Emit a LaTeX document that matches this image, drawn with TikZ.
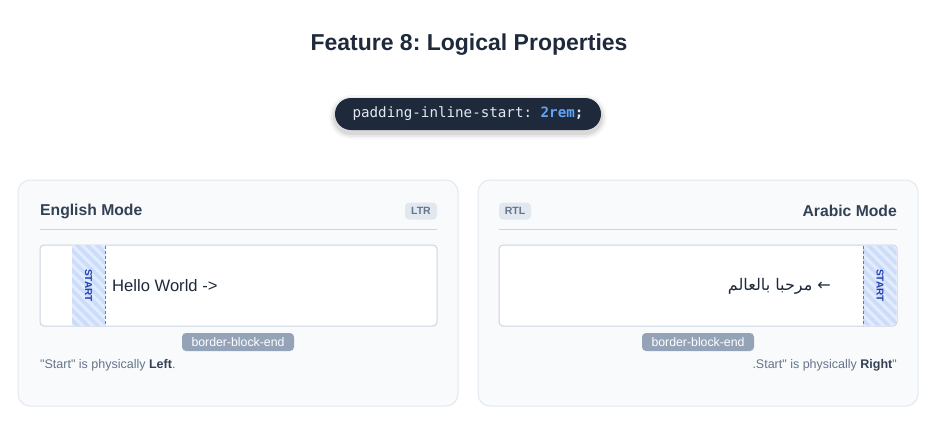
\documentclass[tikz,border=0pt]{standalone}
\usepackage{fontspec}
\setmainfont{Liberation Sans}
\newfontfamily\codefont{DejaVu Sans Mono}
\newfontfamily\arabicfont[Script=Arabic]{DejaVu Sans}
\TeXXeTstate=1
\frenchspacing

\definecolor{ink}{HTML}{1E293B}
\definecolor{headink}{HTML}{334155}
\definecolor{noteink}{HTML}{64748B}
\definecolor{cardbg}{HTML}{F8FAFC}
\definecolor{cardline}{HTML}{E2E8F0}
\definecolor{boxline}{HTML}{CBD5E1}
\definecolor{tagbg}{HTML}{E2E8F0}
\definecolor{endbg}{HTML}{94A3B8}
\definecolor{codebg}{HTML}{1E293B}
\definecolor{codetxt}{HTML}{E2E8F0}
\definecolor{codeblue}{HTML}{60A5FA}
\definecolor{stripebg}{HTML}{E3ECFD}
\definecolor{stripefg}{HTML}{CCDDFB}
\definecolor{startline}{HTML}{3B82F6}
\definecolor{startink}{HTML}{1E40AF}

\tikzset{
    card/.style={draw=cardline, fill=cardbg, line width=1pt, rounded corners=12pt},
    demobox/.style={draw=boxline, fill=white, line width=1pt, rounded corners=4pt},
    rulebar/.style={draw=boxline, line width=1pt},
    heading/.style={font=\fontsize{15.7}{18}\selectfont\bfseries, text=headink, inner sep=0pt},
    modetag/.style={fill=tagbg, rounded corners=4pt, minimum width=32pt, minimum height=17pt,
        inner sep=0pt, text=noteink, font=\fontsize{10.5}{12}\selectfont\bfseries},
    endtag/.style={fill=endbg, rounded corners=4pt, minimum width=112pt, minimum height=18pt,
        inner sep=0pt, text=white, font=\fontsize{12.3}{14}\selectfont},
    note/.style={font=\fontsize{12.5}{15}\selectfont, text=noteink, inner sep=0pt},
    startlbl/.style={font=\fontsize{10}{12}\selectfont\bfseries, text=startink, inner sep=0pt},
    stripe/.style={draw=stripefg, line width=3.6pt},
    startedge/.style={draw=startline, line width=1pt, dash pattern=on 3pt off 2pt},
}

\begin{document}
\begin{tikzpicture}[x=1pt, y=-1pt]

    \useasboundingbox (0,0) rectangle (941,436);

    % title and code pill
    \node[font=\fontsize{23}{27}\selectfont\bfseries, text=ink] (title) at (469,45) {Feature 8: Logical Properties};

    \foreach \s/\o in {6/0.03, 4/0.05, 2/0.07}
        \fill[black, opacity=\o, rounded corners=16pt+\s pt] (335-\s,101-\s) rectangle (601+\s,133+\s);
    \node[fill=codebg, rounded corners=16pt, minimum width=266pt, minimum height=32pt, inner sep=0pt,
        font=\codefont\fontsize{14.2}{16}\selectfont] (code) at (468,114)
        {\textcolor{codetxt}{padding-inline-start:~}\textcolor{codeblue}{\bfseries 2rem}\textcolor{codetxt}{\bfseries;}};

    % english card
    \draw[card] (18,180) rectangle (458,406);
    \node[heading, anchor=west] (enHead) at (40,211) {English Mode};
    \node[modetag] (ltr) at (421,211) {LTR};
    \draw[rulebar] (40,229) -- (437,229);

    \draw[demobox] (40,245) rectangle (437,326);
    \begin{scope}
        \clip (72,245.5) rectangle (105,325.5);
        \fill[stripebg] (72,245) rectangle (105,326);
        \foreach \i in {-100,-90,...,40}
            \draw[stripe] (72+\i,240) -- ++(100,100);
    \end{scope}
    \draw[startedge] (105,245.5) -- (105,325.5);
    \node[startlbl, rotate=-90] (enStart) at (88.5,285.5) {START};
    \node[anchor=west, inner sep=0pt, text=ink, font=\fontsize{16.6}{19}\selectfont] (enText) at (112,286) {Hello World ->};

    \node[endtag] (enEnd) at (238,342) {border-block-end};
    \node[note, anchor=west] (enNote) at (40,365)
        {\textquotedbl Start\textquotedbl{} is physically \textcolor{headink}{\bfseries Left}.};

    % arabic card
    \draw[card] (478,180) rectangle (918,406);
    \node[heading, anchor=east] (arHead) at (897,211) {Arabic Mode};
    \node[modetag] (rtl) at (515,211) {RTL};
    \draw[rulebar] (499,229) -- (897,229);

    \draw[demobox] (499,245) rectangle (897,326);
    \begin{scope}
        \clip[rounded corners=4pt] (499.5,245.5) rectangle (896.5,325.5);
        \clip (863,245) rectangle (897,326);
        \fill[stripebg] (863,245) rectangle (897,326);
        \foreach \i in {-100,-90,...,40}
            \draw[stripe] (863+\i,240) -- ++(100,100);
    \end{scope}
    \draw[startedge] (863,245.5) -- (863,325.5);
    \node[startlbl, rotate=-90] (arStart) at (880,285.5) {START};
    \node[anchor=east, inner sep=0pt, text=ink, font=\fontsize{16}{19}\selectfont] (arText) at (831,286)
        {\arabicfont\beginR ← مرحبا بالعالم\endR};

    \node[endtag] (arEnd) at (698,342) {border-block-end};
    \node[note, anchor=east] (arNote) at (897,365)
        {.Start\textquotedbl{} is physically \textcolor{headink}{\bfseries Right}\textquotedbl};

\end{tikzpicture}
\end{document}
